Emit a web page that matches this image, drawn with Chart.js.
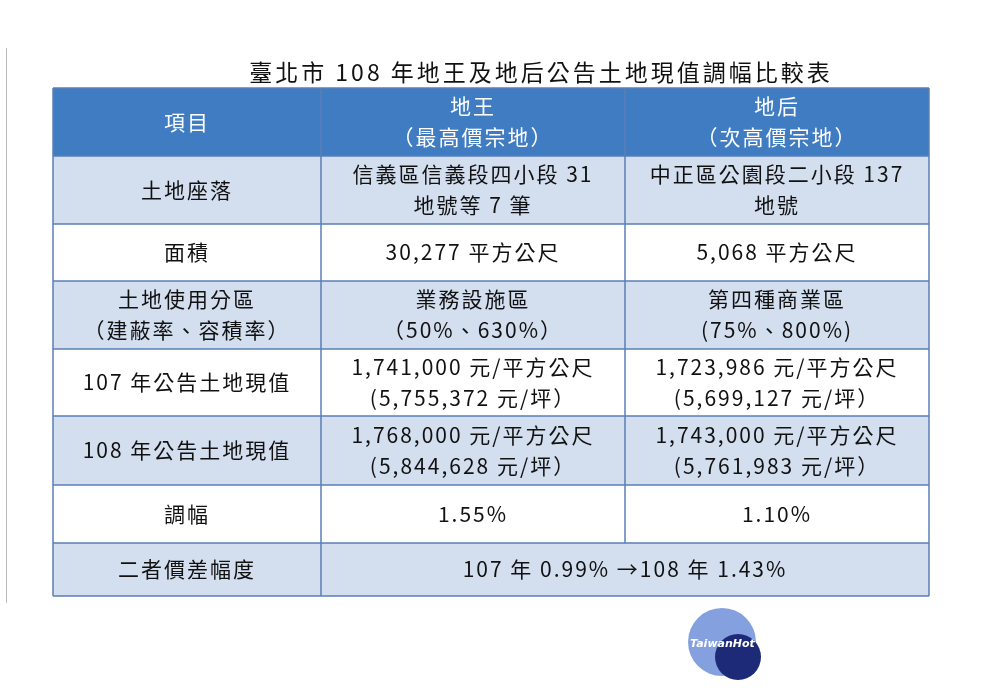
<!DOCTYPE html>
<html>
<head>
<meta charset="utf-8">
<script src="https://cdn.jsdelivr.net/npm/chart.js@4"></script>
<style>
  html, body { margin: 0; padding: 0; background: #fff; }
  #wrap { position: relative; width: 989px; height: 699px; }
  #leftLine { position: absolute; left: 6px; top: 48px; width: 1px; height: 555px; background: #bbb; }
  .logo1 { position: absolute; left: 688px; top: 608px; width: 68px; height: 68px; border-radius: 50%; background: #6f8fd8; opacity: 0.85; }
  .logo2 { position: absolute; left: 715px; top: 634px; width: 46px; height: 46px; border-radius: 50%; background: #1d2a78; }
  .logoText { position: absolute; left: 690px; top: 637px; font: italic bold 11px "DejaVu Sans"; color: #fff; }
</style>
</head>
<body>
<div id="wrap">
  <canvas id="tableChart" width="989" height="699"></canvas>
  <div id="leftLine"></div>
  <div class="logo1"></div><div class="logo2"></div><div class="logoText">TaiwanHot</div>
</div>
<script>
const title = '臺北市 108 年地王及地后公告土地現值調幅比較表';
const headers = [['項目'], ['地王', '（最高價宗地）'], ['地后', '（次高價宗地）']];
const rowLabels = [['土地座落'], ['面積'], ['土地使用分區', '（建蔽率、容積率）'], ['107 年公告土地現值'], ['108 年公告土地現值'], ['調幅'], ['二者價差幅度']];
const kingValues = [
  ['信義區信義段四小段 31', '地號等 7 筆'],
  ['30,277 平方公尺'],
  ['業務設施區', '（50%、630%）'],
  ['1,741,000 元/平方公尺', '(5,755,372 元/坪）'],
  ['1,768,000 元/平方公尺', '(5,844,628 元/坪）'],
  ['1.55%'],
  null
];
const queenValues = [
  ['中正區公園段二小段 137', '地號'],
  ['5,068 平方公尺'],
  ['第四種商業區', '(75%、800%)'],
  ['1,723,986 元/平方公尺', '(5,699,127 元/坪）'],
  ['1,743,000 元/平方公尺', '(5,761,983 元/坪）'],
  ['1.10%'],
  null
];
const spanValues = [null, null, null, null, null, null, ['107 年 0.99% →108 年 1.43%']];

// layout (table units)
const colEdges = [0, 268, 572, 876];
const rowHeights = [68, 68, 57, 68, 67, 69, 58, 53];

const rowEdges = [0];
rowHeights.forEach(h => rowEdges.push(rowEdges[rowEdges.length - 1] + h));

const tablePlugin = {
  id: 'tablePlugin',
  beforeDatasetsDraw(chart) {
    const c = chart.ctx;
    const xs = chart.scales.x, ys = chart.scales.y;
    const X = v => xs.getPixelForValue(v), Y = v => ys.getPixelForValue(v);

    c.save();
    c.textAlign = 'center';
    c.textBaseline = 'middle';
    // title
    c.fillStyle = '#111';
    c.font = '23px "Noto Sans CJK TC"';
    c.letterSpacing = '3px';
    c.fillText(title, 541, 72);

    const cell = (x0, x1, r, lines, color, fill) => {
      c.fillStyle = fill;
      c.fillRect(X(x0), Y(rowEdges[r]), X(x1) - X(x0), Y(rowEdges[r + 1]) - Y(rowEdges[r]));
      if (!lines) return;
      c.fillStyle = color;
      c.font = '21px "Noto Sans CJK TC"';
      c.letterSpacing = '2px';
      const cx = (X(x0) + X(x1)) / 2;
      const cy = (Y(rowEdges[r]) + Y(rowEdges[r + 1])) / 2;
      const lh = 31;
      lines.forEach((t, i) => c.fillText(t, cx, cy + (i - (lines.length - 1) / 2) * lh));
    };

    headers.forEach((h, i) => cell(colEdges[i], colEdges[i + 1], 0, h, '#fff', '#3f7cc2'));
    rowLabels.forEach((lab, i) => {
      const r = i + 1;
      const fill = r % 2 === 1 ? '#d3deef' : '#ffffff';
      cell(colEdges[0], colEdges[1], r, lab, '#111', fill);
      if (spanValues[i]) {
        cell(colEdges[1], colEdges[3], r, spanValues[i], '#111', fill);
      } else {
        cell(colEdges[1], colEdges[2], r, kingValues[i], '#111', fill);
        cell(colEdges[2], colEdges[3], r, queenValues[i], '#111', fill);
      }
    });

    // grid lines
    c.strokeStyle = '#5b7fb5';
    c.lineWidth = 1.5;
    c.beginPath();
    rowEdges.forEach(y => { c.moveTo(X(0), Y(y)); c.lineTo(X(876), Y(y)); });
    colEdges.forEach((x, i) => {
      const bottom = i === 2 ? rowEdges[7] : rowEdges[8];
      c.moveTo(X(x), Y(0)); c.lineTo(X(x), Y(bottom));
    });
    c.stroke();
    c.restore();
  }
};

new Chart(document.getElementById('tableChart').getContext('2d'), {
  type: 'scatter',
  data: { datasets: [{ data: [], pointRadius: 0 }] },
  options: {
    responsive: false,
    animation: false,
    layout: { padding: { left: 53, right: 60, top: 88, bottom: 103 } },
    plugins: { legend: { display: false }, tooltip: { enabled: false } },
    scales: {
      x: { type: 'linear', min: 0, max: 876, display: false },
      y: { type: 'linear', min: 0, max: rowEdges[rowEdges.length - 1], reverse: true, display: false }
    }
  },
  plugins: [tablePlugin]
});
</script>
</body>
</html>
